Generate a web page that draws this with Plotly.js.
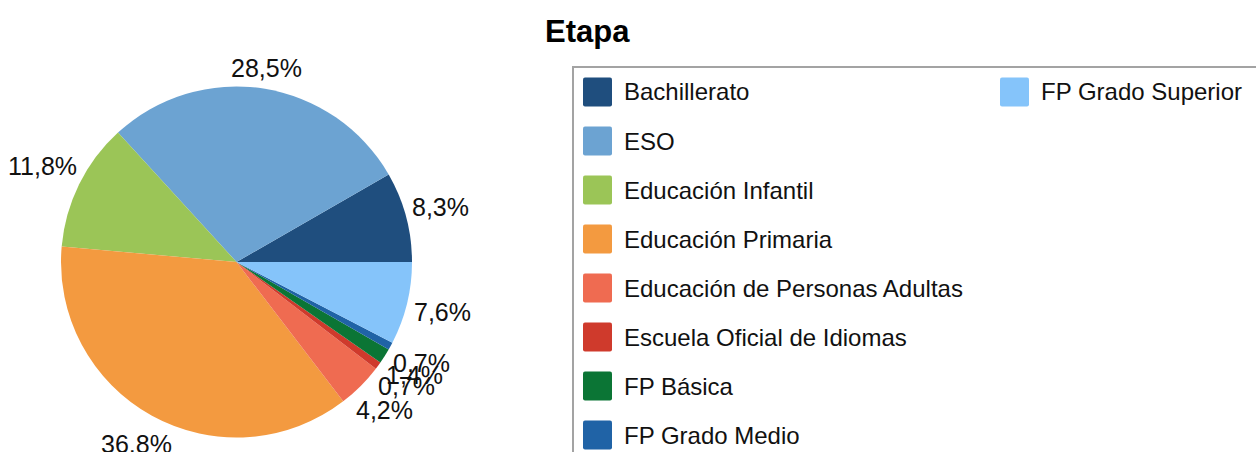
<!DOCTYPE html>
<html>
<head>
<meta charset="utf-8">
<script src="https://cdn.plot.ly/plotly-3.0.1.min.js"></script>
<style>
  html, body { margin: 0; padding: 0; background: #ffffff; }
  #chart { width: 1256px; height: 452px; }
</style>
</head>
<body>
<div id="chart"></div>
<script>
// ---- data ----
const categories = [
  "Bachillerato",
  "ESO",
  "Educación Infantil",
  "Educación Primaria",
  "Educación de Personas Adultas",
  "Escuela Oficial de Idiomas",
  "FP Básica",
  "FP Grado Medio",
  "FP Grado Superior"
];
const shares = [8.3, 28.5, 11.8, 36.8, 4.2, 0.7, 1.4, 0.7, 7.6];
const colors = [
  "#1f4e7e", "#6ca3d2", "#9bc557", "#f39a40", "#ef6b51",
  "#cf3a2c", "#0b7535", "#2063a6", "#85c4fa"
];
const chartTitle = "Etapa";

// ---- layout helpers ----
const W = 1256, H = 452;
const px = x => x / W;
const py = y => 1 - y / H;
const FONT = "Liberation Sans, Arial, Helvetica, sans-serif";
const LABEL_SIZE = 25;

// pie geometry (domain is a square box, so radius = half its side)
const pieBox = { x0: 61, x1: 412, y0: 86.5, y1: 437.5 };
const cx = (pieBox.x0 + pieBox.x1) / 2, cy = (pieBox.y0 + pieBox.y1) / 2;
const R = (pieBox.x1 - pieBox.x0) / 2;
const total = shares.reduce((a, b) => a + b, 0);

const pieTrace = {
  type: "pie",
  labels: categories,
  values: shares,
  sort: false,
  direction: "counterclockwise",
  // first slice begins at 3 o'clock and runs counterclockwise
  rotation: 90 - shares[0] / total * 360,
  marker: { colors: colors, line: { width: 0 } },
  textinfo: "none",
  hoverinfo: "label+percent",
  showlegend: false,
  domain: { x: [px(pieBox.x0), px(pieBox.x1)], y: [py(pieBox.y1), py(pieBox.y0)] }
};

// percentage labels outside the slices, along each slice's mid angle
const ctx = document.createElement("canvas").getContext("2d");
ctx.font = LABEL_SIZE + "px 'Liberation Sans'";
const annotations = [];
let cum = 0;
shares.forEach((v, i) => {
  const mid = (cum + v / 2) / total * 2 * Math.PI;
  cum += v;
  const txt = (v / total * 100).toFixed(1).replace(".", ",") + "%";
  const w = ctx.measureText(txt).width;
  const h = 20;
  const c = Math.cos(mid), s = Math.sin(mid);
  const d = R + (w / 2) * Math.abs(c) + (h / 2) * Math.abs(s) + 6;
  annotations.push({
    xref: "paper", yref: "paper",
    x: px(cx + d * c), y: py(cy - d * s),
    xanchor: "center", yanchor: "middle", showarrow: false,
    text: txt, font: { family: FONT, size: LABEL_SIZE, color: "#111111" }
  });
});

// two-column legend (column-major, 8 rows), framed by a grey box
const shapes = [{
  type: "rect", xref: "paper", yref: "paper",
  x0: px(573), x1: px(1265), y0: py(67), y1: py(470),
  line: { color: "#a3a3a3", width: 2 }, fillcolor: "rgba(0,0,0,0)", layer: "below"
}];
const rowsPerCol = 8;
function roundRect(x0, y0, x1, y1, r) {
  const X = v => px(v), Y = v => py(v);
  return `M${X(x0 + r)},${Y(y0)} L${X(x1 - r)},${Y(y0)} Q${X(x1)},${Y(y0)} ${X(x1)},${Y(y0 + r)} ` +
         `L${X(x1)},${Y(y1 - r)} Q${X(x1)},${Y(y1)} ${X(x1 - r)},${Y(y1)} ` +
         `L${X(x0 + r)},${Y(y1)} Q${X(x0)},${Y(y1)} ${X(x0)},${Y(y1 - r)} ` +
         `L${X(x0)},${Y(y0 + r)} Q${X(x0)},${Y(y0)} ${X(x0 + r)},${Y(y0)} Z`;
}
categories.forEach((cat, i) => {
  const col = Math.floor(i / rowsPerCol);
  const row = i % rowsPerCol;
  const x0 = 583 + col * 417;
  const yc = 92 + row * 49;
  shapes.push({
    type: "path", xref: "paper", yref: "paper",
    path: roundRect(x0, yc - 14.5, x0 + 29, yc + 14.5, 2),
    line: { width: 0 }, fillcolor: colors[i]
  });
  annotations.push({
    xref: "paper", yref: "paper", x: px(x0 + 39), y: py(yc),
    xanchor: "left", yanchor: "middle", showarrow: false,
    text: cat, font: { family: FONT, size: 24, color: "#111111" }
  });
});

const layout = {
  width: W, height: H,
  margin: { l: 0, r: 0, t: 0, b: 0, pad: 0 },
  paper_bgcolor: "#ffffff",
  font: { family: FONT },
  title: {
    text: "<b>" + chartTitle + "</b>",
    x: px(545), xanchor: "left", xref: "paper",
    y: py(31), yanchor: "middle", yref: "container",
    font: { family: FONT, size: 31, color: "#000000" }
  },
  shapes: shapes,
  annotations: annotations,
  showlegend: false
};

Plotly.newPlot("chart", [pieTrace], layout, { displayModeBar: false, responsive: false });
</script>
</body>
</html>
